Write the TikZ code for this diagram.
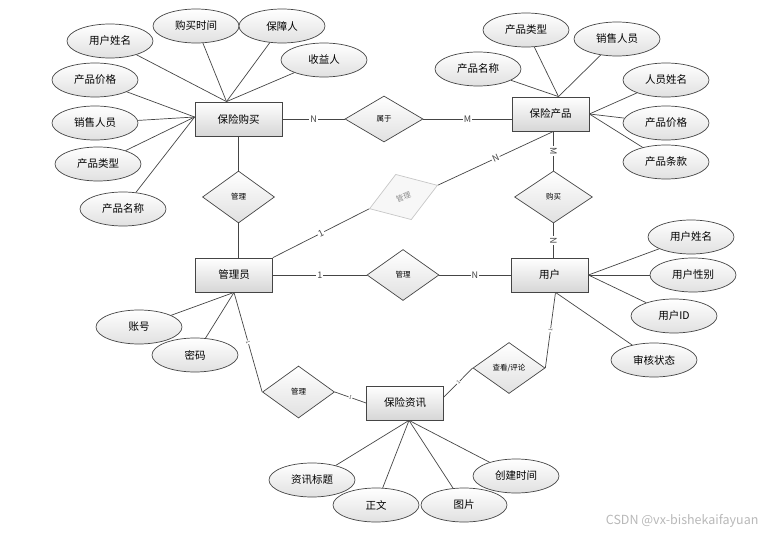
\documentclass[tikz,border=0pt]{standalone}
\usepackage{fontspec}
\setmainfont{Noto Sans CJK SC}
\usetikzlibrary{shapes.geometric,positioning}
\definecolor{edgegray}{HTML}{454545}

\begin{document}
\begin{tikzpicture}[x=1pt,y=-1pt]
	\tikzstyle{entity} = [draw=edgegray,line width=0.8pt,rectangle,minimum width=77pt,minimum height=34pt,top color=white,bottom color=black!16,font=\fontsize{10.5}{12}\selectfont]
	\tikzstyle{attr} = [draw=edgegray,line width=0.7pt,ellipse,minimum width=86pt,minimum height=34pt,inner sep=1pt,top color=white,bottom color=black!12,font=\fontsize{10.5}{12}\selectfont]
	\tikzstyle{rel} = [draw=edgegray,line width=0.7pt,diamond,minimum width=72pt,minimum height=52pt,inner sep=0pt,top color=white,bottom color=black!12,font=\fontsize{7.5}{9}\selectfont]
	\tikzstyle{ghostrel} = [draw=black!22,line width=0.7pt,diamond,minimum width=72pt,minimum height=48pt,inner sep=0pt,fill=black!3,text=black!45,font=\fontsize{7.5}{9}\selectfont]
	\tikzstyle{link} = [edgegray,line width=0.7pt]
	\tikzstyle{card} = [midway,sloped,fill=white,inner sep=1pt,font=\fontsize{9}{10}\selectfont]
	\tikzstyle{tinycard} = [midway,sloped,fill=white,inner sep=0.5pt,font=\fontsize{5}{6}\selectfont]
	\useasboundingbox (0,0) rectangle (773,535);

	% entities
	\node[entity,minimum width=87pt] (Purchase) at (238.5,119) {保险购买};
	\node[entity] (Product) at (550.5,114) {保险产品};
	\node[entity] (Admin) at (234,275) {管理员};
	\node[entity] (User) at (549.5,275) {用户};
	\node[entity] (News) at (405,403) {保险资讯};

	% relations
	\node[rel,minimum width=78pt,minimum height=46pt] (BelongTo) at (384,119) {属于};
	\node[rel] (ManagePurchase) at (238.5,197) {管理};
	\node[ghostrel,rotate=19] (ManageProduct) at (403.5,197) {管理};
	\node[rel,minimum width=78pt] (Buy) at (553.5,197) {购买};
	\node[rel,minimum height=51pt] (ManageUser) at (403,275) {管理};
	\node[rel] (ManageNews) at (298.5,392) {管理};
	\node[rel,minimum height=51pt] (Comment) at (509,368) {查看/评论};

	% attributes
	\node[attr] (PurUserName) at (110,41) {用户姓名};
	\node[attr] (PurTime) at (196,26) {购买时间};
	\node[attr] (PurInsured) at (282,26) {保障人};
	\node[attr] (PurBenef) at (324,60) {收益人};
	\node[attr] (PurPrice) at (95,80) {产品价格};
	\node[attr] (PurSeller) at (95,123) {销售人员};
	\node[attr] (PurType) at (98,164) {产品类型};
	\node[attr] (PurName) at (123,209) {产品名称};

	\node[attr] (ProType) at (526,30) {产品类型};
	\node[attr] (ProSeller) at (617,39) {销售人员};
	\node[attr] (ProName) at (478,69) {产品名称};
	\node[attr] (ProStaff) at (666,80) {人员姓名};
	\node[attr] (ProPrice) at (666,123) {产品价格};
	\node[attr] (ProTerms) at (666,162) {产品条款};

	\node[attr] (UserName) at (691,237) {用户姓名};
	\node[attr] (UserSex) at (693,275) {用户性别};
	\node[attr] (UserID) at (674,316) {用户ID};
	\node[attr] (UserState) at (654,360) {审核状态};

	\node[attr] (AdminAcc) at (139,327) {账号};
	\node[attr] (AdminPwd) at (195,355) {密码};

	\node[attr] (NewsTitle) at (312,480) {资讯标题};
	\node[attr] (NewsText) at (376,505) {正文};
	\node[attr] (NewsPic) at (464,505) {图片};
	\node[attr] (NewsTime) at (516,476) {创建时间};

	\coordinate (PurchaseTop) at ([xshift=-12pt]Purchase.north);
	\coordinate (PurchaseLeft) at ([yshift=2pt]Purchase.west);
	\coordinate (ProductTop) at ([xshift=8pt]Product.north);
	\coordinate (ProductBottom) at (Product.south -| Buy);
	\coordinate (UserBottom) at ([xshift=6pt]User.south);
	\coordinate (NewsBottom) at ([xshift=4pt]News.south);
	\coordinate (NewsRight) at ([yshift=6pt]News.east);

	% relation lines
	\draw[link] (Purchase) -- (BelongTo) node[card] {N};
	\draw[link] (BelongTo) -- (Product.west |- BelongTo) node[card] {M};
	\draw[link] (Purchase) -- (ManagePurchase);
	\draw[link] (ManagePurchase) -- (Admin.north -| ManagePurchase);
	\draw[link] (Admin.north east) -- (ManageProduct.west) node[card] {1};
	\draw[link] (ManageProduct.east) -- (ProductBottom) node[card] {N};
	\draw[link] (ProductBottom) -- (Buy.north) node[card] {M};
	\draw[link] (Buy.south) -- (User.north -| Buy) node[card] {N};
	\draw[link] (Admin) -- (ManageUser) node[card] {1};
	\draw[link] (ManageUser) -- (User) node[card] {N};
	\draw[link] (Admin.south) -- (ManageNews.west) node[tinycard] {1};
	\draw[link] (ManageNews.east) -- (News.west) node[tinycard] {1};
	\draw[link] (NewsRight) -- (Comment.west) node[tinycard] {1};
	\draw[link] (Comment.east) -- (UserBottom) node[tinycard] {1};

	% attribute lines
	\foreach \a in {PurUserName,PurTime,PurInsured,PurBenef}
		\draw[link] (\a) -- (PurchaseTop);
	\foreach \a in {PurPrice,PurSeller,PurType,PurName}
		\draw[link] (\a) -- (PurchaseLeft);
	\foreach \a in {ProType,ProSeller,ProName}
		\draw[link] (\a) -- (ProductTop);
	\foreach \a in {ProStaff,ProPrice,ProTerms}
		\draw[link] (\a) -- (Product.east);
	\foreach \a in {UserName,UserSex,UserID}
		\draw[link] (\a) -- (User.east);
	\draw[link] (UserState) -- (UserBottom);
	\foreach \a in {AdminAcc,AdminPwd}
		\draw[link] (\a) -- (Admin.south);
	\foreach \a in {NewsTitle,NewsText,NewsPic,NewsTime}
		\draw[link] (\a) -- (NewsBottom);

	\node[anchor=east,text=black!28,font=\fontsize{12.5}{14}\selectfont] (Mark) at (762,521) {CSDN @vx-bishekaifayuan};
\end{tikzpicture}
\end{document}
